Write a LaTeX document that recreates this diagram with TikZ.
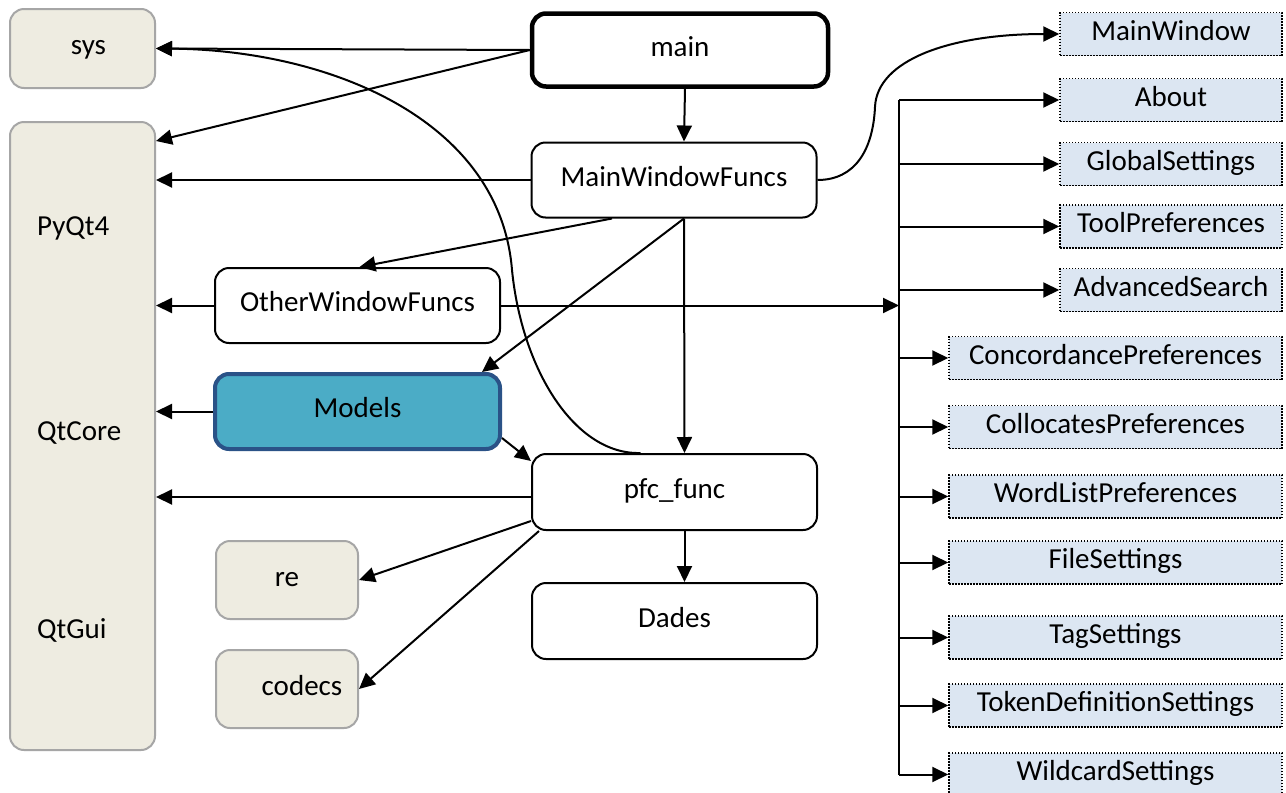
\documentclass[tikz,border=0pt]{standalone}
\usepackage{fontspec}
\setmainfont{Carlito}
\usetikzlibrary{arrows.meta}

\definecolor{modfill}{HTML}{EEECE1}
\definecolor{modline}{HTML}{A6A6A6}
\definecolor{winfill}{HTML}{DCE6F2}
\definecolor{modelsfill}{HTML}{4BACC6}
\definecolor{modelsline}{HTML}{2A5287}

\tikzset{
  labelfont/.style={font=\fontsize{29}{34}\selectfont},
  boxbase/.style={labelfont, rounded corners=14pt, inner sep=0pt,
    text height=19pt, text depth=7pt},
  modbox/.style={boxbase, draw=modline, fill=modfill, line width=2pt},
  funcbox/.style={boxbase, draw=black, fill=white, line width=2pt,
    minimum width=285pt, minimum height=75pt},
  winbox/.style={labelfont, inner sep=0pt, text height=19pt, text depth=7pt,
    draw=black, fill=winfill, line width=1.5pt,
    dash pattern=on 1.5pt off 1.5pt, minimum height=43pt},
  qtlabel/.style={labelfont, anchor=base west, inner sep=0pt},
  dep/.style={-{Triangle[length=16pt,width=15pt]}, line width=2pt},
}

\begin{document}
\begin{tikzpicture}[x=1pt,y=-1pt]
  \useasboundingbox (0,0) rectangle (1286,793);
  \fill[white] (0,0) rectangle (1286,793);

  % Library modules on the left
  \node[modbox, minimum width=145pt, minimum height=79pt] (sys) at (82.5,48.5) {\hspace{12pt}sys};
  \node[modbox, minimum width=145pt, minimum height=628pt] (pyqt) at (82.5,436) {};
  \foreach \y/\name in {235/PyQt4, 440/QtCore, 638/QtGui}
    \node[qtlabel] (lbl\name) at (37,\y) {\name};
  \node[modbox, minimum width=142pt, minimum height=78pt] (re) at (287,580) {re};
  \node[modbox, minimum width=142pt, minimum height=78pt] (codecs) at (287,689) {\hspace{30pt}codecs};

  % Program modules
  \node[funcbox, line width=4.5pt, minimum width=296pt, minimum height=73pt] (main) at (680,50) {main};
  \node[funcbox] (mwf) at (674,180) {MainWindowFuncs};
  \node[funcbox] (owf) at (357.5,305.5) {OtherWindowFuncs};
  \node[funcbox, draw=modelsline, fill=modelsfill, line width=4pt] (models) at (357.5,411.5) {Models};
  \node[funcbox, minimum height=76pt] (pfc) at (674.5,492) {pfc\_func};
  \node[funcbox, minimum height=76pt] (dades) at (674.5,621) {Dades};

  % Window classes on the right
  \foreach \name/\y/\txt in {mainwin/34/MainWindow, about/100/About,
      global/164/GlobalSettings, tool/226.5/ToolPreferences,
      advsearch/290/AdvancedSearch}
    \node[winbox, minimum width=222pt] (\name) at (1171,\y) {\txt};
  \foreach \name/\y/\txt in {concord/358/ConcordancePreferences,
      colloc/427/CollocatesPreferences, wordlist/496.5/WordListPreferences,
      filesett/562.5/FileSettings, tagsett/637.5/TagSettings,
      tokendef/705.5/TokenDefinitionSettings, wildcard/774.5/WildcardSettings}
    \node[winbox, minimum width=333pt] (\name) at (1115.5,\y) {\txt};

  % Imports of main
  \draw[dep] (main.west) -- (sys.east);
  \draw[dep] (main.west) -- ([yshift=-20pt]pyqt.north east);
  \draw[dep] ([xshift=5pt]main.south) -- ([xshift=10pt]mwf.north);

  % Imports of MainWindowFuncs
  \draw[dep] (mwf.west) -- (mwf.west -| pyqt.east);
  \draw[dep] ([xshift=-62pt]mwf.south) -- ([xshift=2pt]owf.north);
  \draw[dep] ([xshift=10pt]mwf.south) -- ([xshift=-20pt]models.north east);
  \draw[dep] ([xshift=10pt]mwf.south) -- ([xshift=10pt]pfc.north);
  \draw[dep] (mwf.east) .. controls (855,180) and (873,150) .. (875,107)
    .. controls (877,60) and (950,34) .. (mainwin.west);

  % Imports of OtherWindowFuncs, through the bus
  \coordinate (bus) at (899,0);
  \draw[dep] (owf.west) -- (owf.west -| pyqt.east);
  \draw[dep] (owf.east) -- (bus |- owf.east);
  \draw[line width=2pt] (bus |- about.west) -- (bus |- wildcard.west);
  \foreach \name in {about, global, tool, advsearch, concord, colloc,
      wordlist, filesett, tagsett, tokendef, wildcard}
    \draw[dep] (bus |- \name.west) -- (\name.west);

  % Imports of Models
  \draw[dep] (models.west) -- (models.west -| pyqt.east);
  \draw[dep] ([yshift=13pt]models.south east) -- ([yshift=-8pt]pfc.north west);

  % Imports of pfc_func
  \draw[dep] ([yshift=-5pt]pfc.west) -- ([yshift=-5pt]pfc.west -| pyqt.east);
  \draw[dep] ([yshift=10pt]pfc.south west) -- (re.east);
  \draw[dep] ([xshift=8pt]pfc.south west) -- (codecs.east);
  \draw[dep] ([xshift=10pt]pfc.south) -- ([xshift=10pt]dades.north);
  \draw[dep] ([xshift=-34pt]pfc.north) .. controls (575,455) and (522,370) .. (512,270)
    .. controls (500,120) and (330,50) .. (sys.east);
\end{tikzpicture}
\end{document}
